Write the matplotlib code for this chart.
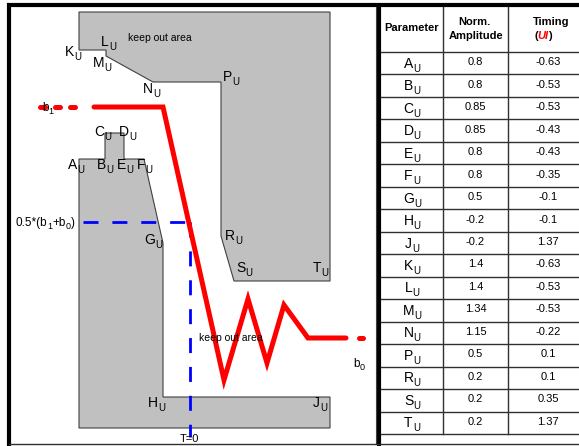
import matplotlib
matplotlib.use("Agg")
import matplotlib.pyplot as plt
from matplotlib.patches import Polygon

plt.rcParams['font.family'] = ['Liberation Sans', 'DejaVu Sans']
plt.rcParams['lines.scale_dashes'] = False

# ---------------- table data ----------------
params = ['A', 'B', 'C', 'D', 'E', 'F', 'G', 'H', 'J', 'K', 'L', 'M', 'N', 'P', 'R', 'S', 'T']
amplitude = ['0.8', '0.8', '0.85', '0.85', '0.8', '0.8', '0.5', '-0.2', '-0.2',
             '1.4', '1.4', '1.34', '1.15', '0.5', '0.2', '0.2', '0.2']
timing = ['-0.63', '-0.53', '-0.53', '-0.43', '-0.43', '-0.35', '-0.1', '-0.1', '1.37',
          '-0.63', '-0.53', '-0.53', '-0.22', '0.1', '0.1', '0.35', '1.37']

# ---------------- schematic diagram (drawing units) ----------------
lower_x = [79, 105, 105, 124, 124, 144, 163, 163, 330, 330, 79]
lower_y = [159, 159, 133, 133, 159, 159, 243, 397, 397, 428, 428]
upper_x = [79, 330, 330, 234, 221, 221, 153, 106, 106, 79]
upper_y = [12, 12, 281, 281, 236, 82, 82, 56, 50, 50]

wave_x = [94, 163, 224, 248, 267, 284, 308, 346]
wave_y = [107, 107, 380, 299, 363, 305, 338, 338]
wave_dot_left_x = [39.5, 74.5]
wave_dot_left_y = [107, 107]
wave_dot_right_x = [358.5, 362.5]
wave_dot_right_y = [338, 338]

mid_h_x = [83, 190]
mid_h_y = [222, 222]
mid_v_x = [190, 190]
mid_v_y = [222, 437]

label_names = ['K', 'L', 'M', 'N', 'P', 'C', 'D', 'A', 'B', 'E', 'F', 'G', 'R', 'S', 'T', 'H', 'J']
label_x = [65, 101, 93, 143, 223, 94, 119, 68, 97, 117, 137, 144, 225, 236, 313, 148, 313]
label_y = [56, 46, 67, 93, 81, 136, 136, 169, 169, 169, 169, 244, 240, 272, 272, 407, 407]

W, H = 579, 446
fig = plt.figure(figsize=(W / 100, H / 100), dpi=100)
ax = fig.add_axes([0, 0, 1, 1])
ax.set_xlim(0, W)
ax.set_ylim(H, 0)
ax.axis('off')
renderer = fig.canvas.get_renderer()


def rich(x, y, parts, size, sub_size, drop, ha='left', **kw):
    """parts: list of (string, is_sub). y = baseline of main text (pixels)."""
    items = []
    cx = x
    for s, sub in parts:
        fs = sub_size if sub else size
        yy = y + (drop if sub else 0)
        t = ax.text(cx, yy, s, fontsize=fs, ha='left', va='baseline', zorder=4, **kw)
        bb = t.get_window_extent(renderer)
        cx += bb.width
        items.append(t)
    if ha == 'center':
        shift = (cx - x) / 2
        for t in items:
            px, py = t.get_position()
            t.set_position((px - shift, py))
    return items


gray = '#c0c0c0'
edge = '#404040'
ax.add_patch(Polygon(list(zip(lower_x, lower_y)), closed=True, fc=gray, ec=edge, lw=0.8, zorder=1))
ax.add_patch(Polygon(list(zip(upper_x, upper_y)), closed=True, fc=gray, ec=edge, lw=0.8, zorder=1))

ax.plot(mid_h_x, mid_h_y, color='#0000ff', lw=2.0, ls=(0, (10.8, 10.0)), zorder=2)
ax.plot(mid_v_x, mid_v_y, color='#0000ff', lw=2.0, ls=(0, (10.8, 10.0)), zorder=2)

red = '#ff0000'
ax.plot(wave_x, wave_y, color=red, lw=3.6, solid_capstyle='round', solid_joinstyle='miter', zorder=3)
ax.plot(wave_dot_left_x, wave_dot_left_y, color=red, lw=3.6, ls=(0, (3.6, 7.2)),
        dash_capstyle='round', zorder=3)
ax.plot(wave_dot_right_x, wave_dot_right_y, color=red, lw=3.6, solid_capstyle='round', zorder=3)

for n, x, y in zip(label_names, label_x, label_y):
    rich(x, y, [(n, False), ('U', True)], 10, 7, 4)

ax.text(128, 38, 'keep out area', fontsize=7.5, ha='left', va='center', zorder=4)
ax.text(199, 338, 'keep out area', fontsize=7.5, ha='left', va='center', zorder=4)
rich(16, 226, [('0.5*(b', False), ('1', True), ('+b', False), ('0', True), (')', False)], 8.5, 6.5, 3)
rich(42, 111, [('b', False), ('1', True)], 8.5, 6.5, 3)
rich(353, 367, [('b', False), ('0', True)], 8.5, 6.5, 3)
ax.text(189, 439, 'T=0', fontsize=8, ha='center', va='center', zorder=4)

# frame
ax.plot([7, 579], [5, 5], color='black', lw=3.0, solid_capstyle='butt', zorder=5)
ax.plot([9, 9], [3, 446], color='black', lw=3.0, solid_capstyle='butt', zorder=5)
ax.plot([379, 379], [3, 446], color='black', lw=3.0, solid_capstyle='butt', zorder=5)
ax.plot([376, 376], [7, 444], color='#404040', lw=0.8, zorder=5)
ax.plot([9, 579], [444, 444], color='#303030', lw=1.0, zorder=5)

# table
tcol = '#303030'
col_x = [381, 443, 508, 579]
header_bottom = 52
row_h = (434 - header_bottom) / len(params)
for xv in col_x[1:3]:
    ax.plot([xv, xv], [7, 434], color=tcol, lw=1.0, zorder=5)
for i in range(len(params) + 1):
    yv = header_bottom + i * row_h
    ax.plot([381, 579], [yv, yv], color=tcol, lw=1.0, zorder=5)

ax.text(412, 28, 'Parameter', fontsize=8, fontweight='bold', ha='center', va='center')
ax.text(474, 22, 'Norm.', fontsize=8, fontweight='bold', ha='center', va='center')
ax.text(476, 36, 'Amplitude', fontsize=8, fontweight='bold', ha='center', va='center')
ax.text(551, 22, 'Timing', fontsize=8, fontweight='bold', ha='center', va='center')
ax.text(536, 36, '(', fontsize=8, fontweight='bold', ha='center', va='center')
ax.text(542.5, 36, 'UI', fontsize=8, fontweight='bold', style='italic', color='red', ha='center', va='center')
ax.text(549.5, 36, ')', fontsize=8, fontweight='bold', ha='center', va='center')

for i, (p, a, t) in enumerate(zip(params, amplitude, timing)):
    yc = header_bottom + (i + 0.5) * row_h
    rich(412, yc + 4.5, [(p, False), ('U', True)], 10, 7, 4, ha='center')
    ax.text(475.5, yc - 1, a, fontsize=8, ha='center', va='center')
    ax.text(548, yc - 1, t, fontsize=8, ha='center', va='center')

fig.savefig('out.png', dpi=100)
